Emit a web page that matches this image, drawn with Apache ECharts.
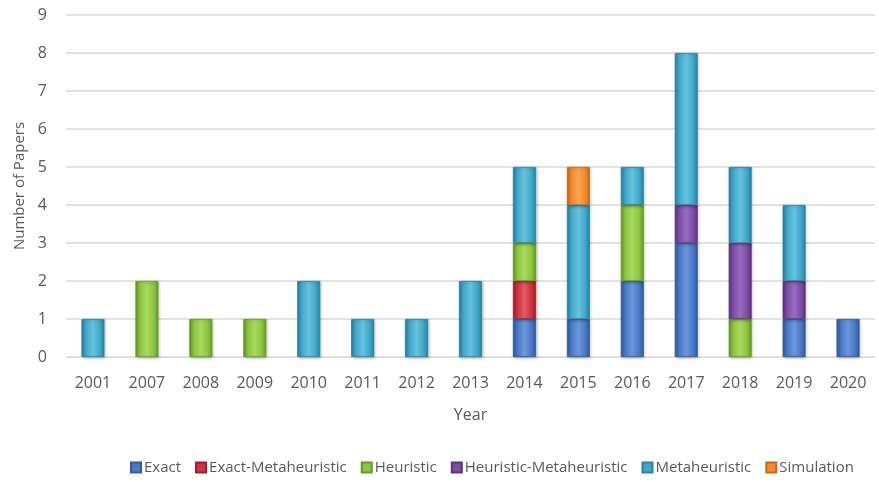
<!DOCTYPE html>
<html>
<head>
<meta charset="utf-8">
<script src="https://cdn.jsdelivr.net/npm/echarts@6/dist/echarts.min.js"></script>
<style>html,body{margin:0;padding:0;background:#fff;}#c{width:879px;height:482px;}</style>
</head>
<body>
<div id="c"></div>
<script>
const years = ['2001','2007','2008','2009','2010','2011','2012','2013','2014','2015','2016','2017','2018','2019','2020'];
const exact =                  [0,0,0,0,0,0,0,0,1,1,2,3,0,1,1];
const exactMetaheuristic =     [0,0,0,0,0,0,0,0,1,0,0,0,0,0,0];
const heuristic =              [0,2,1,1,0,0,0,0,1,0,2,0,1,0,0];
const heuristicMetaheuristic = [0,0,0,0,0,0,0,0,0,0,0,1,2,1,0];
const metaheuristic =          [1,0,0,0,2,1,1,2,2,3,1,4,2,2,0];
const simulation =             [0,0,0,0,0,0,0,0,0,1,0,0,0,0,0];
const yTicks = [0,1,2,3,4,5,6,7,8,9];

const seriesDefs = [
  ['Exact', exact, '#4a78c6', '#6b98dc', '#2f5a9e'],
  ['Exact-Metaheuristic', exactMetaheuristic, '#d0323f', '#e55a66', '#a01e2a'],
  ['Heuristic', heuristic, '#8cc63f', '#a8da5e', '#659a22'],
  ['Heuristic-Metaheuristic', heuristicMetaheuristic, '#7e4ea6', '#9a6bc0', '#5c3282'],
  ['Metaheuristic', metaheuristic, '#3fa8c9', '#66c3de', '#2a82a2'],
  ['Simulation', simulation, '#f3892a', '#f9a64e', '#c9661a']
];

const chart = echarts.init(document.getElementById('c'));
chart.setOption({
  animation: false,
  textStyle: {fontFamily: 'Open Sans'},
  grid: {left: 66, right: 4, top: 15, bottom: 125},
  legend: {
    bottom: 2, left: 125,
    itemWidth: 10, itemHeight: 10, itemGap: 14,
    icon: 'rect',
    textStyle: {color: '#595959', fontSize: 15, fontFamily: 'Open Sans', padding: [0,0,0,-2]},
    data: seriesDefs.map(s => ({name: s[0], itemStyle: {color: s[2]}}))
  },
  xAxis: {
    type: 'category', data: years,
    name: 'Year', nameLocation: 'middle', nameGap: 50,
    nameTextStyle: {color: '#595959', fontSize: 16},
    axisLine: {lineStyle: {color: '#d9d9d9'}},
    axisTick: {show: false},
    axisLabel: {color: '#595959', fontSize: 16, margin: 18}
  },
  yAxis: {
    type: 'value', min: 0, max: 9, interval: 1,
    name: 'Number of Papers', nameLocation: 'middle', nameGap: 38,
    nameTextStyle: {color: '#595959', fontSize: 15},
    axisLine: {show: false}, axisTick: {show: false},
    axisLabel: {color: '#595959', fontSize: 16, margin: 19, formatter: v => yTicks.includes(v) ? String(v) : ''},
    splitLine: {lineStyle: {color: '#d9d9d9', width: 1.5}}
  },
  series: seriesDefs.map(s => ({
    name: s[0], type: 'bar', stack: 'total', barWidth: 23,
    data: s[1].map(v => v === 0 ? null : v),
    itemStyle: {
      color: new echarts.graphic.LinearGradient(0, 0, 1, 0, [
        {offset: 0, color: s[4]},
        {offset: 0.2, color: s[2]},
        {offset: 0.5, color: s[3]},
        {offset: 0.8, color: s[2]},
        {offset: 1, color: s[4]}
      ]),
      borderColor: s[4], borderWidth: 0.8,
      shadowColor: 'rgba(0,0,0,0.25)', shadowBlur: 3, shadowOffsetX: 1, shadowOffsetY: 1
    },
    emphasis: {disabled: true}
  }))
});
</script>
</body>
</html>
